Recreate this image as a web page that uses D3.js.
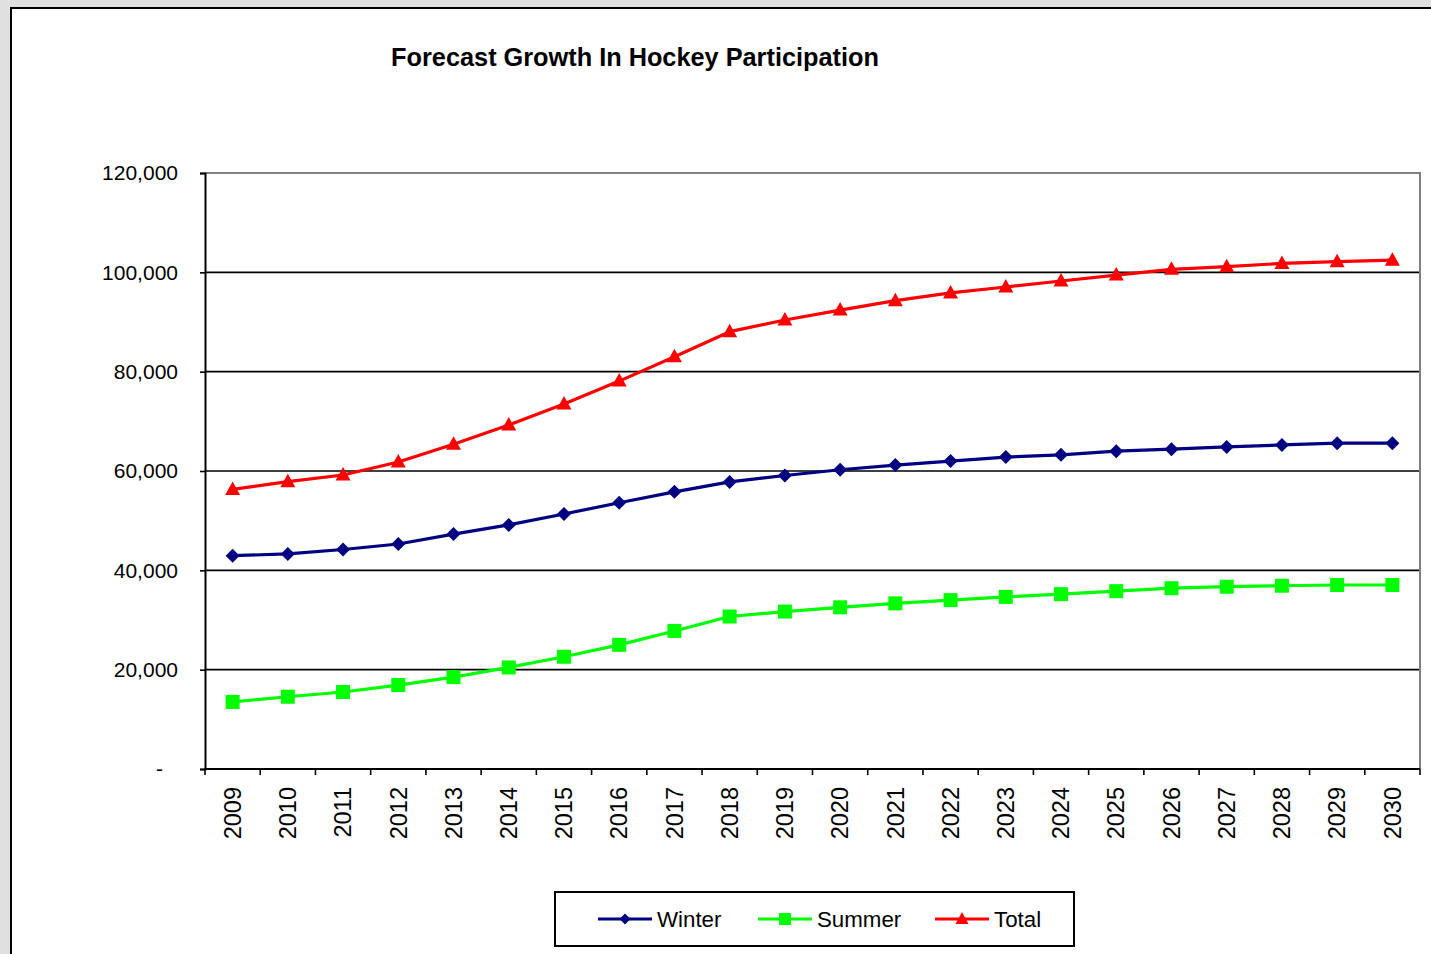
<!DOCTYPE html>
<html>
<head>
<meta charset="utf-8">
<script src="https://cdn.jsdelivr.net/npm/d3@7"></script>
<style>
  html, body { margin: 0; padding: 0; background: #e0e0e0; }
  svg { display: block; }
  text { font-family: "Liberation Sans", Arial, sans-serif; fill: #000; }
</style>
</head>
<body>
<svg id="chart" width="1431" height="954"></svg>
<script>
// ---- Data ----
const years = ["2009","2010","2011","2012","2013","2014","2015","2016","2017","2018","2019",
               "2020","2021","2022","2023","2024","2025","2026","2027","2028","2029","2030"];
const winter = [42950, 43300, 44200, 45300, 47300, 49150, 51350, 53600, 55800, 57800, 59100,
                60250, 61200, 62000, 62800, 63250, 64000, 64400, 64850, 65250, 65600, 65600];
const summer = [13500, 14550, 15500, 16900, 18500, 20450, 22600, 25000, 27800, 30700, 31700,
                32550, 33350, 34000, 34650, 35200, 35800, 36400, 36700, 36900, 37050, 37050];
const total  = [56300, 57850, 59200, 61800, 65400, 69250, 73500, 78100, 83000, 88050, 90400,
                92400, 94300, 95850, 97050, 98250, 99450, 100600, 101130, 101800, 102150, 102450];
const yTicks = [0, 20000, 40000, 60000, 80000, 100000, 120000];
const seriesNames = ["Winter", "Summer", "Total"];
const title = "Forecast Growth In Hockey Participation";

// ---- Layout ----
const svg = d3.select("#chart");
const W = 1431, H = 954;
const plot = { left: 205, right: 1420, top: 173, bottom: 769 };
const colors = { Winter: "#000080", Summer: "#00ff00", Total: "#ff0000" };
const seriesData = { Winter: winter, Summer: summer, Total: total };

// chart area (white panel with black border)
svg.append("rect").attr("x", 11).attr("y", 8).attr("width", W + 20).attr("height", H + 20)
  .attr("fill", "#fff").attr("stroke", "#000").attr("stroke-width", 2);

// title
svg.append("text").attr("x", 635).attr("y", 66).attr("text-anchor", "middle")
  .style("font-size", "25.3px").style("font-weight", "bold").text(title);

// scales
const x = d3.scaleBand().domain(years).range([plot.left, plot.right]).paddingInner(0).paddingOuter(0);
const y = d3.scaleLinear().domain([0, 120000]).range([plot.bottom, plot.top]);
const cx = d => x(d) + x.bandwidth() / 2;

// gridlines
svg.append("g").selectAll("line").data(yTicks.filter(t => t > 0 && t < 120000)).join("line")
  .attr("x1", plot.left).attr("x2", plot.right)
  .attr("y1", d => y(d)).attr("y2", d => y(d))
  .attr("stroke", "#000").attr("stroke-width", 1.6);

// plot border top/right (grey)
svg.append("path")
  .attr("d", `M${plot.left},${y(120000)}H${plot.right}V${plot.bottom}`)
  .attr("fill", "none").attr("stroke", "#808080").attr("stroke-width", 2);

// y axis
const yAxis = d3.axisLeft(y).tickValues(yTicks).tickSize(5).tickPadding(22)
  .tickFormat(d => d === 0 ? "-" : d3.format(",")(d));
const gy = svg.append("g").attr("transform", `translate(${plot.left},0)`).call(yAxis);
gy.select(".domain").attr("stroke", "#000").attr("stroke-width", 2);
gy.selectAll(".tick line").attr("stroke", "#000").attr("stroke-width", 1.6);
gy.selectAll(".tick text").style("font-size", "21px").style("font-family", '"Liberation Sans", Arial, sans-serif')
  .attr("fill", "#000")
  .attr("dx", d => d === 0 ? -15 : 0);

// x axis line + ticks at band edges
svg.append("line").attr("x1", plot.left).attr("x2", plot.right)
  .attr("y1", plot.bottom).attr("y2", plot.bottom)
  .attr("stroke", "#000").attr("stroke-width", 2);
const edges = years.map(d => x(d)).concat([x(years[years.length - 1]) + x.bandwidth()]);
svg.append("g").selectAll("line").data(edges).join("line")
  .attr("x1", d => d).attr("x2", d => d)
  .attr("y1", plot.bottom).attr("y2", plot.bottom + 6)
  .attr("stroke", "#000").attr("stroke-width", 1.6);
svg.append("g").selectAll("text").data(years).join("text")
  .attr("transform", d => `translate(${cx(d)},787) rotate(-90)`)
  .attr("text-anchor", "end").attr("dy", "0.35em")
  .style("font-size", "23.5px").text(d => d);

// markers
const markerPath = {
  Winter: "M0,-7L7,0L0,7L-7,0Z",
  Summer: "M-7,-7H7V7H-7Z",
  Total:  "M0,-8L7.5,5.5L-7.5,5.5Z"
};
const legendMarkerPath = {
  Winter: "M0,-5.5L5.5,0L0,5.5L-5.5,0Z",
  Summer: "M-6,-6H6V6H-6Z",
  Total:  "M0,-7L6.5,5L-6.5,5Z"
};

// lines
const line = d3.line().x(d => cx(d.year)).y(d => y(d.value));
seriesNames.forEach(name => {
  const pts = years.map((yr, i) => ({ year: yr, value: seriesData[name][i] }));
  svg.append("path").datum(pts).attr("d", line)
    .attr("fill", "none").attr("stroke", colors[name]).attr("stroke-width", 3.2)
    .attr("stroke-linejoin", "round");
  svg.append("g").selectAll("path").data(pts).join("path")
    .attr("transform", d => `translate(${cx(d.year)},${y(d.value)})`)
    .attr("d", markerPath[name]).attr("fill", colors[name]);
});

// legend
const lg = svg.append("g");
lg.append("rect").attr("x", 555).attr("y", 892).attr("width", 519).attr("height", 54)
  .attr("fill", "#fff").attr("stroke", "#000").attr("stroke-width", 2);
const legendX = [598, 758, 935];
seriesNames.forEach((name, i) => {
  const g = lg.append("g").attr("transform", `translate(${legendX[i]},919)`);
  g.append("line").attr("x1", 0).attr("x2", 54).attr("y1", 0).attr("y2", 0)
    .attr("stroke", colors[name]).attr("stroke-width", 3);
  g.append("path").attr("transform", "translate(27,0)").attr("d", legendMarkerPath[name]).attr("fill", colors[name]);
  g.append("text").attr("x", 59).attr("y", 0).attr("dy", "0.37em")
    .style("font-size", "22.3px").text(name);
});
</script>
</body>
</html>
